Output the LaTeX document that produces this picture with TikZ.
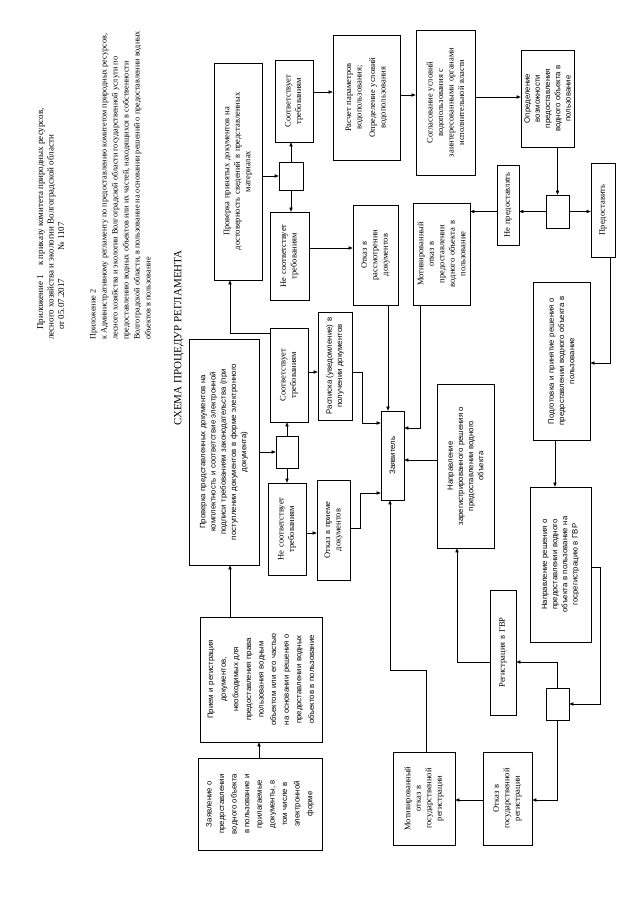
\documentclass[tikz,border=0pt]{standalone}
\usepackage{fontspec}
\setmainfont{Liberation Serif}
\setsansfont{Liberation Sans}
\usetikzlibrary{arrows.meta}
\newcommand{\fsr}{\rmfamily\fontsize{8.5}{10.5}\selectfont}
\newcommand{\fss}{\sffamily\fontsize{7.8}{10.2}\selectfont}
\newcommand{\mkbox}[7]{%
  \pgfmathsetmacro\bxw{#5-#4}%
  \pgfmathsetmacro\bxh{#3-#2}%
  \pgfmathsetmacro\bxt{#5-#4-6}%
  \pgfmathsetmacro\bxcx{(#2+#3)/2}%
  \pgfmathsetmacro\bxcy{(#4+#5)/2}%
  \node[rbox,font=#6,minimum width=\bxw pt,minimum height=\bxh pt,text width=\bxt pt] (#1) at (\bxcx,\bxcy) {#7};%
}
\begin{document}
\begin{tikzpicture}[x=1pt,y=-1pt,
  rbox/.style={draw,line width=0.6pt,rotate=90,align=center,inner sep=1pt},
  sbox/.style={draw,line width=0.6pt,inner sep=0pt},
  arr/.style={line width=0.5pt,-{Triangle[length=4pt,width=3.2pt]}},
  hdr/.style={rotate=90,anchor=north west,align=left,inner sep=0pt}]
\useasboundingbox[fill=white] (0,0) rectangle (640,905);

% header
\node[hdr,font=\rmfamily\fontsize{9}{10.5}\selectfont] (h1) at (37,340)
 {\hspace*{10pt}Приложение 1\quad к приказу комитета природных ресурсов,\\
  лесного хозяйства и экологии Волгоградской области\\
  \hspace*{10pt}от 05.07.2017\hspace{28pt}№ 1107};
\node[hdr,font=\rmfamily\fontsize{8.2}{11}\selectfont] (h2) at (90,340)
 {Приложение 2\\
  к Административному регламенту по предоставлению комитетом природных ресурсов,\\
  лесного хозяйства и экологии Волгоградской области государственной услуги по\\
  предоставлению водных объектов или их частей, находящихся в собственности\\
  Волгоградской области, в пользование на основании решений о предоставлении водных\\
  объектов в пользование};
\node[rotate=90,inner sep=0pt,font=\rmfamily\fontsize{11}{12}\selectfont] (title) at (179,338) {СХЕМА ПРОЦЕДУР РЕГЛАМЕНТА};

% boxes
\mkbox{A}{189}{259}{339}{565}{\fss}{Проверка представленных документов на\\комплектность и соответствие электронной\\подписи требованиям законодательства (при\\поступлении документов в форме электронного\\документа)}
\mkbox{B}{214}{262}{63}{280}{\fsr}{Проверка принятых документов на\\достоверность сведений в представленных\\материалах}
\mkbox{C2}{275}{313}{60}{142}{\fsr}{Соответствует\\требованиям}
\mkbox{D2}{270}{309}{212}{300}{\fsr}{Не соответствует\\требованиям}
\mkbox{Ras}{333}{400}{35}{160}{\fsr}{Расчет параметров\\водопользования;\\[3pt]Определение условий\\водопользования}
\mkbox{Sog}{416}{475}{30}{175}{\fsr}{Согласование условий\\водопользования с\\заинтересованными органами\\исполнительной власти}
\mkbox{Opr}{521}{574}{50}{147}{\fss}{Определение\\возможности\\предоставления\\водного объекта в\\пользование}
\mkbox{NeP}{497}{519}{165}{245}{\fsr}{Не предоставлять}
\mkbox{Pre}{591}{615}{163}{257}{\fsr}{Предоставить}
\mkbox{Mot}{413}{470}{203}{305}{\fsr}{Мотивированный\\отказ в\\предоставлении\\водного объекта в\\пользование}
\mkbox{OtR}{353}{398}{205}{305}{\fsr}{Отказ в\\рассмотрении\\документов}
\mkbox{Pod}{533}{590}{282}{440}{\fss}{Подготовка и принятие решения о\\предоставлении водного объекта в\\пользование}
\mkbox{Rsp}{318}{352}{312}{420}{\fss}{Расписка (уведомление) в\\получении документов}
\mkbox{C1}{270}{308}{328}{422}{\fsr}{Соответствует\\требованиям}
\mkbox{D1}{268}{306}{483}{575}{\fsr}{Не соответствует\\требованиям}
\mkbox{OtP}{317}{350}{480}{580}{\fsr}{Отказ в приеме\\документов}
\mkbox{Zay}{381}{404}{411}{500}{\fss}{Заявитель}
\mkbox{NZ}{437}{494}{384}{548}{\fss}{Направление\\зарегистрированного решения о\\предоставлении водного\\объекта}
\mkbox{NG}{530}{591}{487}{642}{\fss}{Направление решения о\\предоставлении водного\\объекта в пользование на\\госрегистрацию в ГВР}
\mkbox{Reg}{490}{516}{590}{715}{\fsr}{Регистрация в ГВР}
\mkbox{OtG}{483}{532}{752}{845}{\fsr}{Отказ в\\государственной\\регистрации}
\mkbox{MtG}{393}{455}{752}{845}{\fsr}{Мотивированный\\отказ в\\государственной\\регистрации}
\mkbox{Pri}{200}{322}{617}{742}{\sffamily\fontsize{7.8}{12.6}\selectfont}{Прием и регистрация\\документов,\\необходимых для\\предоставления права\\пользования водным\\объектом или его частью\\на основании решения о\\предоставлении водных\\объектов в пользование}
\mkbox{Zvl}{198}{322}{758}{850}{\sffamily\fontsize{7.8}{12.6}\selectfont}{Заявление о\\предоставлении\\водного объекта\\в пользование и\\прилагаемые\\документы, в\\том числе в\\электронной\\форме}

% decision boxes
\node[sbox,minimum width=22pt,minimum height=32pt] (S1) at (287,452) {};
\node[sbox,minimum width=24pt,minimum height=28pt] (S2) at (291,176) {};
\node[sbox,minimum width=23pt,minimum height=33pt] (S3) at (557.5,211.5) {};
\node[sbox,minimum width=23pt,minimum height=32pt] (S4) at (557.5,704) {};

% connectors
\draw[arr] (Zvl.east -| 259,0) -- (Pri.west -| 259,0);
\draw[arr] (Pri.east -| 230,0) -- (A.west -| 230,0);
\draw[arr] (A.south |- S1) -- (S1.west);
\draw[arr] (S1.north) -- (C1.west -| S1.north);
\draw[arr] (S1.south) -- (D1.east -| S1.south);
\draw[arr] (C1.south |- 0,372) -- (Rsp.north |- 0,372);
\draw[arr] (D1.south |- 0,533) -- (OtP.north |- 0,533);
\draw[arr] (C1.north |- 0,333) -| (B.west -| 230,0);
\draw[arr] (B.south |- S2) -- (S2.west);
\draw[arr] (S2.north) -- (C2.west -| S2.north);
\draw[arr] (S2.south) -- (D2.east -| S2.south);
\draw[arr] (C2.south |- 0,92) -- (Ras.north |- 0,92);
\draw[arr] (D2.south |- 0,248) -- (OtR.north |- 0,248);
\draw[arr] (Ras.south |- 0,95) -- (Sog.north |- 0,95);
\draw[arr] (Sog.south |- 0,97) -- (Opr.north |- 0,97);
\draw[arr] (Opr.west -| S3.north) -- (S3.north);
\draw[arr] (S3.west) -- (NeP.south |- S3.west);
\draw[arr] (NeP.north |- S3.west) -- (Mot.south |- S3.west);
\draw[arr] (S3.east) -- (Pre.north |- S3.east);
\draw[arr] (Pre.west -| 610,0) |- (Pod.south |- 0,363);
\draw[arr] (Pod.west -| 555,0) -- (NG.east -| 555,0);
\draw[arr] (NG.south |- 0,567) -- ++(9,0) |- (S4.east);
\draw[arr] (S4.north) |- (Reg.south |- 0,662);
\draw[arr] (Reg.north |- 0,662) -| (NZ.west -| 457,0);
\draw[arr] (S4.south) |- (OtG.south |- 0,800);
\draw[arr] (OtG.north |- 0,800) -- (MtG.south |- 0,800);
\draw[arr] (MtG.east -| 426,0) -- (426,670) -| (Zay.west -| 390,0);
\draw[arr] (NZ.north |- 0,460) -- (Zay.south |- 0,460);
\draw[arr] (Mot.west -| 420,0) |- (Zay.south |- 0,428);
\draw[arr] (OtR.west -| 388,0) -- (Zay.east -| 388,0);
\draw[arr] (Rsp.south |- 0,372) -- ++(10,0) |- (Zay.north |- 0,423);
\draw[arr] (OtP.south |- 0,528) -- ++(10,0) |- (Zay.north |- 0,493);
\end{tikzpicture}
\end{document}
